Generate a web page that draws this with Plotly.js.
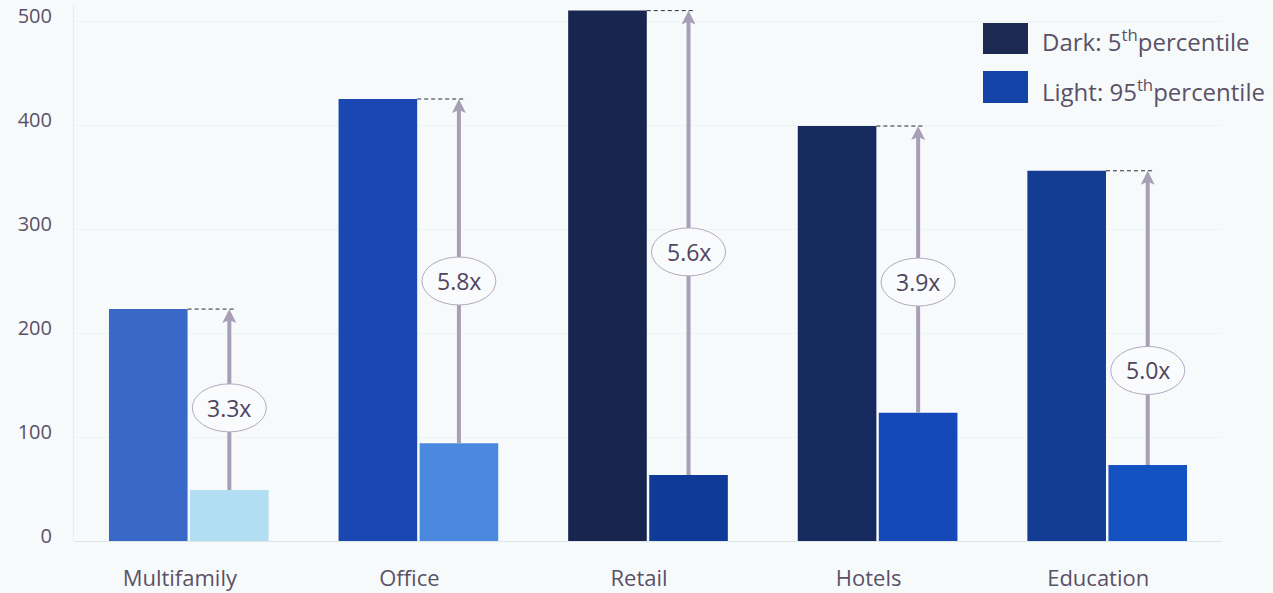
<!DOCTYPE html>
<html>
<head>
<meta charset="utf-8">
<script src="https://cdn.plot.ly/plotly-3.0.1.min.js"></script>
<style>
  html, body { margin: 0; padding: 0; background: #f7fafb; }
  #chart { width: 1273px; height: 593px; }
</style>
</head>
<body>
<div id="chart"></div>
<script>
// Building types and the two percentile series
var categories = ['Multifamily', 'Office', 'Retail', 'Hotels', 'Education'];
var p5Values  = [223, 425, 510, 399, 356];
var p95Values = [49, 94, 63.5, 123.4, 73];
var ratioLabels = ['3.3x', '5.8x', '5.6x', '3.9x', '5.0x'];
var yTicks = [0, 100, 200, 300, 400, 500];

// Vertical placement of the ratio badges (y data units)
var badgeY = [128, 250, 278, 249, 164];

// Per-bar fills
var darkColors  = ['#3a68c6', '#1a47b2', '#17254f', '#162a5f', '#143c92'];
var lightColors = ['#b2def4', '#4b89de', '#0f3a97', '#1549b9', '#1552c1'];

var textColor = '#5b5167';
var arrowColor = '#a89eb6';
var font = 'Open Sans, sans-serif';

var bargap = 0.294;
var bargroupgap = 0.03;
var slot = (1 - bargap) / 2;          // category units per bar slot
var lightOffset = slot / 2;           // centre of the second bar in each group
var darkRight = -slot * bargroupgap / 2;

var idx = categories.map(function (_, i) { return i; });

var traces = [
  {
    type: 'bar', x: idx, y: p5Values, name: 'Dark: 5th percentile',
    marker: { color: darkColors }, hoverinfo: 'y', showlegend: false
  },
  {
    type: 'bar', x: idx, y: p95Values, name: 'Light: 95th percentile',
    marker: { color: lightColors }, hoverinfo: 'y', showlegend: false
  }
];

var shapes = [];
var annotations = [];

idx.forEach(function (i) {
  var ax = i + lightOffset;
  var top = p5Values[i];
  var bottom = p95Values[i];
  // dashed guide at the height of the tall bar
  shapes.push({
    type: 'line', xref: 'x', yref: 'y',
    x0: i + darkRight, x1: ax + 0.032, y0: top, y1: top,
    line: { color: '#2e2c36', width: 1, dash: '4px,3px' }
  });
  // arrow shaft
  shapes.push({
    type: 'line', xref: 'x', yref: 'y',
    x0: ax, x1: ax, y0: bottom, y1: top - 8,
    line: { color: arrowColor, width: 4 }
  });
  // arrow head, sized in pixels around the tip
  shapes.push({
    type: 'path', xref: 'x', yref: 'y',
    xsizemode: 'pixel', ysizemode: 'pixel',
    xanchor: ax, yanchor: top,
    path: 'M-7,-14 L0,0 L7,-14 L0,-11 Z',
    fillcolor: arrowColor, line: { width: 0 }
  });
  // badge outline
  shapes.push({
    type: 'circle', xref: 'x', yref: 'y',
    xsizemode: 'pixel', ysizemode: 'pixel',
    xanchor: ax, yanchor: badgeY[i],
    x0: -37, x1: 37, y0: -24, y1: 24,
    fillcolor: '#f9fbfc', line: { color: '#b4a9c0', width: 1 }
  });
  // ratio text
  annotations.push({
    xref: 'x', yref: 'y', x: ax, y: badgeY[i],
    text: ratioLabels[i], showarrow: false,
    font: { family: font, size: 23, color: '#4f465e' },
    xanchor: 'center', yanchor: 'middle'
  });
});

// Legend swatches and labels
shapes.push({
  type: 'rect', xref: 'paper', yref: 'paper',
  x0: 0.7918, x1: 0.831, y0: 0.9086, y1: 0.9664,
  fillcolor: '#1c2a52', line: { width: 0 }
});
shapes.push({
  type: 'rect', xref: 'paper', yref: 'paper',
  x0: 0.7918, x1: 0.831, y0: 0.8172, y1: 0.8769,
  fillcolor: '#1444a8', line: { width: 0 }
});
annotations.push({
  xref: 'paper', yref: 'paper', x: 0.8415, y: 0.934,
  xanchor: 'left', yanchor: 'middle', showarrow: false,
  text: 'Dark: 5<sup>th</sup>percentile',
  font: { family: font, size: 24, color: textColor }
});
annotations.push({
  xref: 'paper', yref: 'paper', x: 0.8415, y: 0.84,
  xanchor: 'left', yanchor: 'middle', showarrow: false,
  text: 'Light: 95<sup>th</sup>percentile',
  font: { family: font, size: 24, color: textColor }
});

var layout = {
  width: 1273, height: 593,
  margin: { l: 74, r: 51, t: 5, b: 52 },
  paper_bgcolor: '#f7fafb',
  plot_bgcolor: '#f7fafb',
  barmode: 'group',
  bargap: bargap,
  bargroupgap: bargroupgap,
  showlegend: false,
  xaxis: {
    type: 'linear',
    range: [-0.5, 4.5],
    tickvals: idx,
    ticktext: categories,
    showgrid: false,
    zeroline: false,
    showline: false,
    ticks: '',
    ticklabelstandoff: 22,
    ticklabelshift: -9,
    tickfont: { family: font, size: 22, color: textColor },
    fixedrange: true
  },
  yaxis: {
    range: [0, 515.4],
    tickvals: yTicks,
    ticktext: yTicks.map(String),
    showgrid: true,
    gridcolor: '#eef3f5',
    gridwidth: 1,
    zeroline: true,
    zerolinecolor: '#dfe6ea',
    zerolinewidth: 1,
    showline: true,
    linecolor: '#e6edf0',
    linewidth: 1,
    ticks: '',
    ticklabelstandoff: 17,
    ticklabelshift: -5,
    tickfont: { family: font, size: 20, color: textColor },
    fixedrange: true
  },
  shapes: shapes,
  annotations: annotations,
  font: { family: font, color: textColor }
};

Plotly.newPlot('chart', traces, layout, { displayModeBar: false, staticPlot: true });
</script>
</body>
</html>
